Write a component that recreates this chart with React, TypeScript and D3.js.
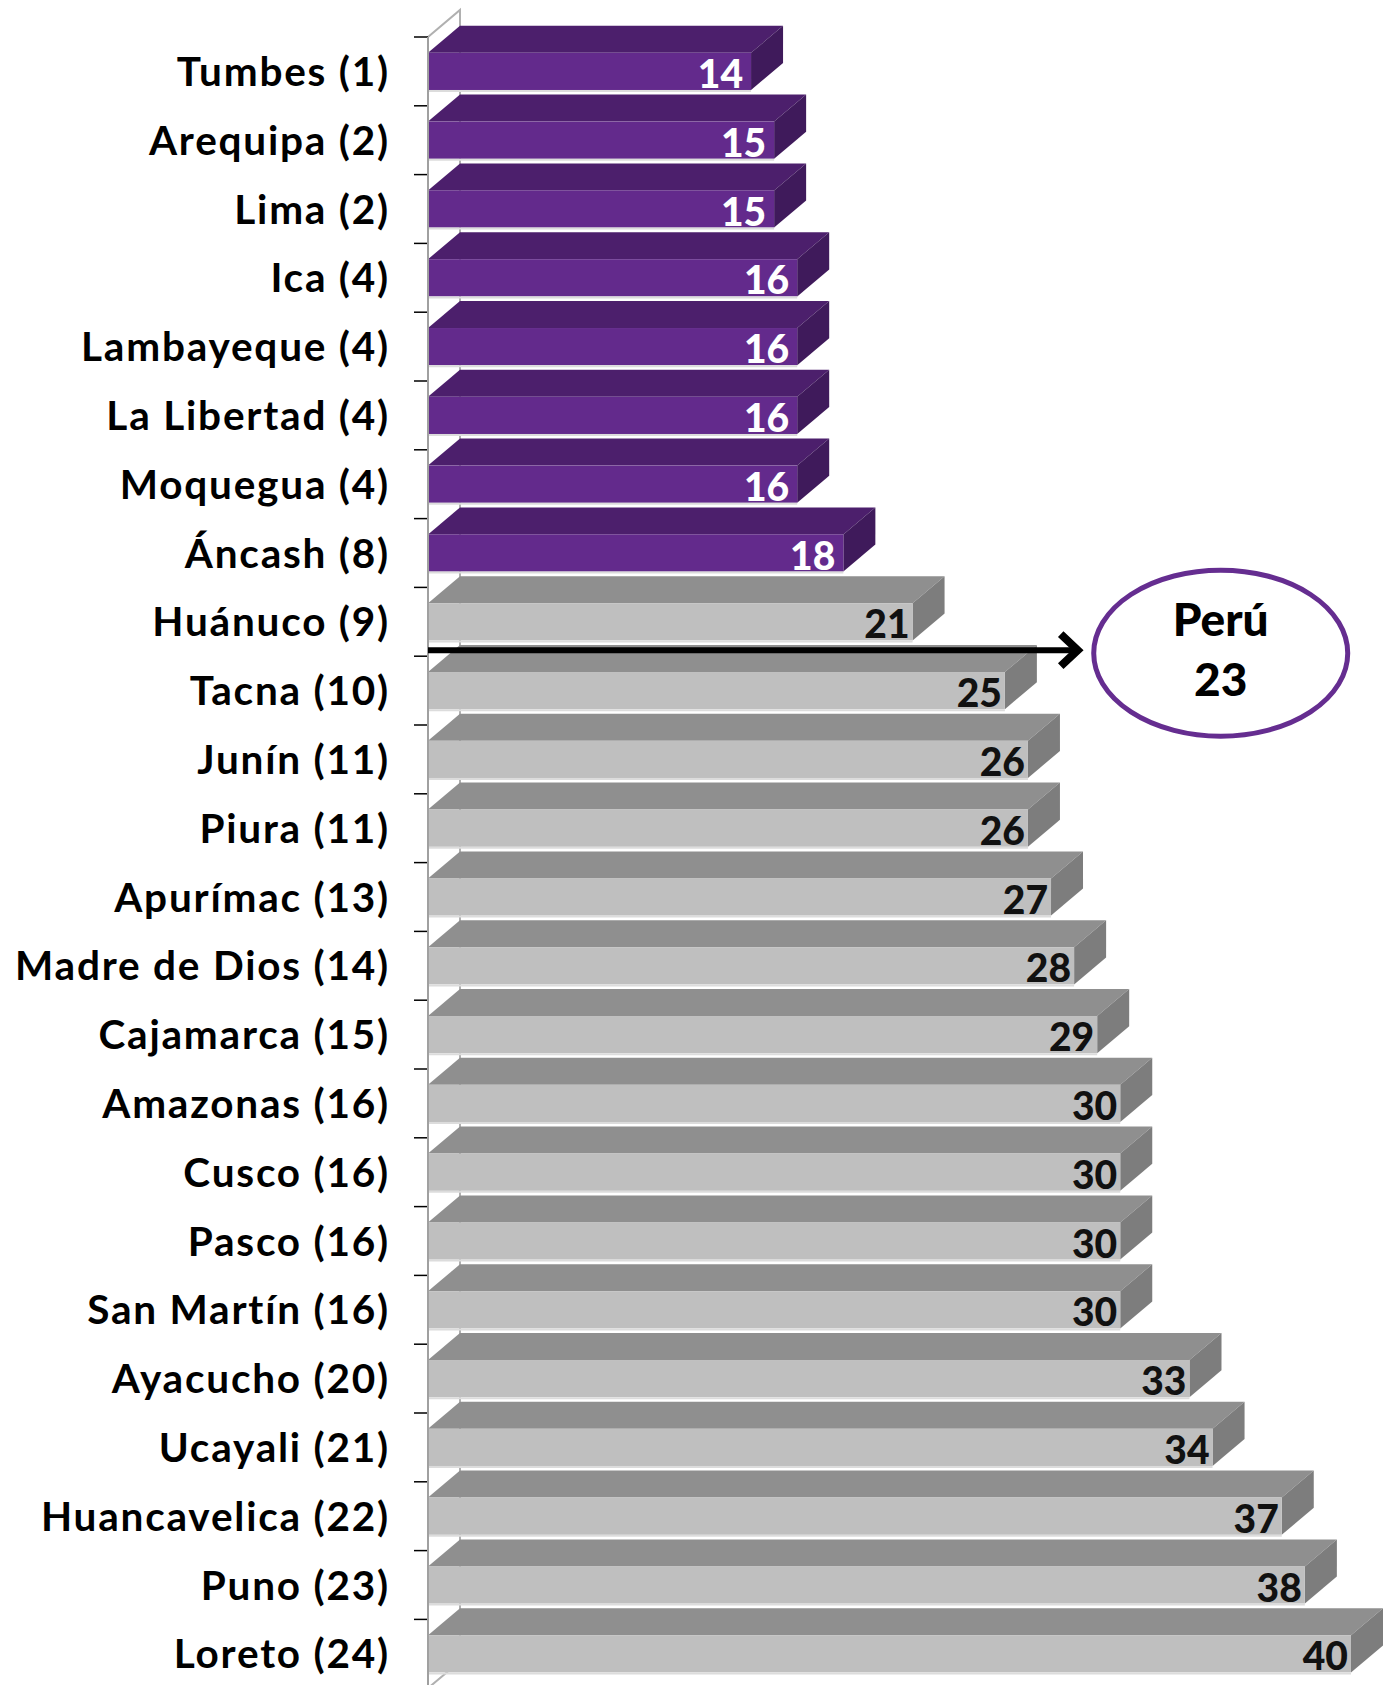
import { useMemo } from "react";
import * as d3 from "d3";

const regions = [
  "Tumbes (1)", "Arequipa (2)", "Lima (2)", "Ica (4)", "Lambayeque (4)",
  "La Libertad (4)", "Moquegua (4)", "Áncash (8)", "Huánuco (9)", "Tacna (10)",
  "Junín (11)", "Piura (11)", "Apurímac (13)", "Madre de Dios (14)", "Cajamarca (15)",
  "Amazonas (16)", "Cusco (16)", "Pasco (16)", "San Martín (16)", "Ayacucho (20)",
  "Ucayali (21)", "Huancavelica (22)", "Puno (23)", "Loreto (24)",
];
const values = [14, 15, 15, 16, 16, 16, 16, 18, 21, 25, 26, 26, 27, 28, 29, 30, 30, 30, 30, 33, 34, 37, 38, 40];
const highlighted = ["Tumbes (1)", "Arequipa (2)", "Lima (2)", "Ica (4)", "Lambayeque (4)", "La Libertad (4)", "Moquegua (4)", "Áncash (8)"];
const national = { label: "Perú", value: 23, after: "Huánuco (9)" };

const W = 1391;
const H = 1685;
const DX = 32;
const DY = 27;

const purple = { front: "#632a8c", top: "#4c1f6c", side: "#3f1a5b", text: "#ffffff" };
const gray = { front: "#bfbfbf", top: "#8f8f8f", side: "#7d7d7d", text: "#111111" };

const labelFont = "Lato, 'DejaVu Sans', sans-serif";

export default function App() {
  const x = useMemo(() => d3.scaleLinear().domain([0, 40]).range([428, 1351]), []);
  const y = useMemo(
    () =>
      d3.scaleBand<string>()
        .domain(regions)
        .range([37, 37 + regions.length * 68.8])
        .paddingInner(0.46)
        .paddingOuter(0.23),
    []
  );

  const step = y.step();
  const bw = y.bandwidth();
  const x0 = x(0);
  const top = y.range()[0];
  const bottom = y.range()[1];
  const ticks = d3.range(regions.length + 1).map((i) => top + i * step);

  // arrow sits just above the bar following Peru's position
  const nextIdx = regions.indexOf(national.after) + 1;
  const arrowY = top + nextIdx * step - 6;
  const arrowEnd = x(national.value) + 119;
  const ellipseCx = arrowEnd + 143;

  return (
    <svg width={W} height={H} style={{ position: "absolute", left: 0, top: 0, background: "#fff" }}>
      {/* left wall */}
      <polygon
        points={`${x0},${top} ${x0 + DX},${top - DY} ${x0 + DX},${bottom - DY} ${x0},${bottom}`}
        fill="#ffffff"
        stroke="#b0b0b0"
        strokeWidth={2}
      />
      {ticks.map((t, i) => (
        <line key={i} x1={x0 - 14} x2={x0} y1={t} y2={t} stroke="#000" strokeWidth={1.5} />
      ))}

      {regions.map((r, i) => {
        const c = highlighted.includes(r) ? purple : gray;
        const fy = y(r)!;
        const xr = x(values[i]);
        return (
          <g key={r}>
            <polygon
              points={`${x0},${fy} ${x0 + DX},${fy - DY} ${xr + DX},${fy - DY} ${xr},${fy}`}
              fill={c.top}
            />
            <polygon
              points={`${xr},${fy} ${xr + DX},${fy - DY} ${xr + DX},${fy + bw - DY} ${xr},${fy + bw}`}
              fill={c.side}
            />
            <rect x={x0} y={fy} width={xr - x0} height={bw} fill={c.front} />
            <line x1={x0} x2={xr} y1={fy + bw + 1} y2={fy + bw + 1} stroke="#dcdcdc" strokeWidth={2} />
            <text
              x={xr - (c === purple ? 8 : 3)}
              y={fy + bw - 2}
              textAnchor="end"
              fontFamily={labelFont}
              fontWeight={900}
              fontSize={39}
              fill={c.text}
            >
              {values[i]}
            </text>
            <text
              x={390}
              y={fy + bw / 2}
              dy="0.36em"
              textAnchor="end"
              fontFamily={labelFont}
              fontWeight={700}
              fontSize={40.5}
              letterSpacing={1.8}
              fill="#000"
            >
              {r}
            </text>
          </g>
        );
      })}

      {/* axis front edge */}
      <line x1={x0} x2={x0} y1={top} y2={bottom} stroke="#a0a0a0" strokeWidth={2} />

      {/* national average annotation */}
      <line x1={x0} x2={arrowEnd - 4} y1={arrowY} y2={arrowY} stroke="#000" strokeWidth={6} />
      <polyline
        points={`${arrowEnd - 17},${arrowY - 16} ${arrowEnd},${arrowY} ${arrowEnd - 17},${arrowY + 16}`}
        fill="none"
        stroke="#000"
        strokeWidth={8}
      />
      <ellipse cx={ellipseCx} cy={arrowY + 3} rx={127} ry={83} fill="#fff" stroke="#652d90" strokeWidth={5} />
      <text
        x={ellipseCx}
        y={arrowY - 14}
        textAnchor="middle"
        fontFamily={labelFont}
        fontWeight={900}
        fontSize={46}
        fill="#000"
      >
        {national.label}
      </text>
      <text
        x={ellipseCx}
        y={arrowY + 46}
        textAnchor="middle"
        fontFamily={labelFont}
        fontWeight={900}
        fontSize={46}
        fill="#000"
      >
        {national.value}
      </text>
    </svg>
  );
}
